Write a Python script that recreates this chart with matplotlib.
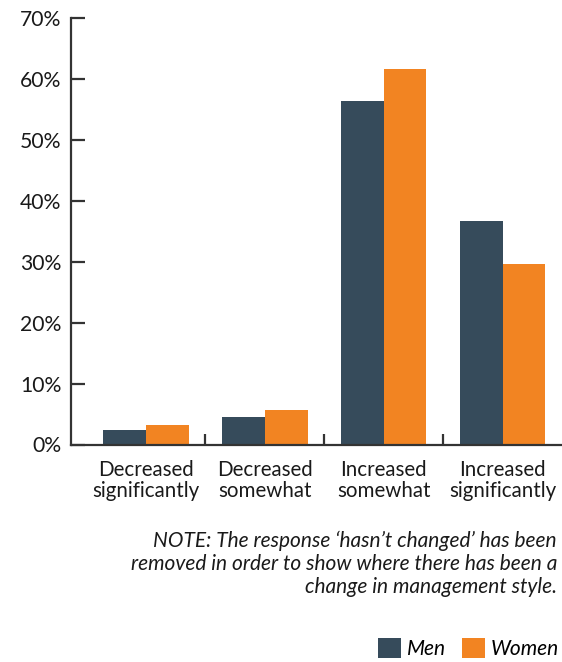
import matplotlib
matplotlib.use("Agg")
import matplotlib.pyplot as plt
from matplotlib.patches import Patch
from matplotlib.ticker import FixedLocator, FuncFormatter
import numpy as np

plt.rcParams['font.family'] = ['Lato', 'DejaVu Sans']

categories = ["Decreased\nsignificantly", "Decreased\nsomewhat",
              "Increased\nsomewhat", "Increased\nsignificantly"]
men = [2.4, 4.5, 56.4, 36.7]
women = [3.2, 5.7, 61.7, 29.6]
series_names = ["Men", "Women"]
yticks = [0, 10, 20, 30, 40, 50, 60, 70]

men_color = "#364B5B"
women_color = "#F28422"
axis_color = "#333333"
text_color = "#1a1a1a"

W, H = 562, 662
fig = plt.figure(figsize=(W / 100, H / 100), dpi=100)
ax_left, ax_right = 71 / W, 562 / W
ax_bottom, ax_top = 1 - 444.5 / H, 1 - 18 / H
ax = fig.add_axes([ax_left, ax_bottom, ax_right - ax_left, ax_top - ax_bottom])

x = np.arange(len(categories))
bw = 0.36
ax.bar(x - bw / 2, men, width=bw, color=men_color, label=series_names[0])
ax.bar(x + bw / 2, women, width=bw, color=women_color, label=series_names[1])

ax.set_xlim(-0.63, 3.5)
ax.set_ylim(0, 70)

for s in ["top", "right"]:
    ax.spines[s].set_visible(False)
for s in ["left", "bottom"]:
    ax.spines[s].set_color(axis_color)
    ax.spines[s].set_linewidth(1.6)

ax.yaxis.set_major_locator(FixedLocator(yticks))
ax.yaxis.set_major_formatter(FuncFormatter(lambda v, p: f"{int(v)}%"))
ax.tick_params(axis="y", direction="in", length=10, width=1.6, color=axis_color,
               labelsize=15.2, labelcolor=text_color, pad=7)

ax.set_xticks(x)
ax.set_xticklabels(categories, fontsize=14.8, color=text_color, linespacing=1.1)
ax.tick_params(axis="x", which="major", length=0, pad=11)
ax.set_xticks([0.5, 1.5, 2.5], minor=True)
ax.tick_params(axis="x", which="minor", direction="in", length=8, width=1.6,
               color=axis_color)

fig.text(557 / W, 1 - 564 / H,
         "NOTE: The response \u2018hasn\u2019t changed\u2019 has been\n"
         "removed in order to show where there has been a\n"
         "change in management style.",
         ha="right", va="center", style="italic", fontsize=15,
         color=text_color, linespacing=1.2)

handles = [Patch(facecolor=men_color, edgecolor="none"),
           Patch(facecolor=women_color, edgecolor="none")]
leg = fig.legend(handles, series_names, loc="lower right",
                 bbox_to_anchor=(559 / W, 3 / H), ncol=2, frameon=False,
                 prop={"style": "italic", "size": 15},
                 handlelength=1.1, handleheight=1.1, handletextpad=0.3,
                 columnspacing=0.75, borderpad=0.0, borderaxespad=0.0)

fig.savefig("out.png", dpi=100)
